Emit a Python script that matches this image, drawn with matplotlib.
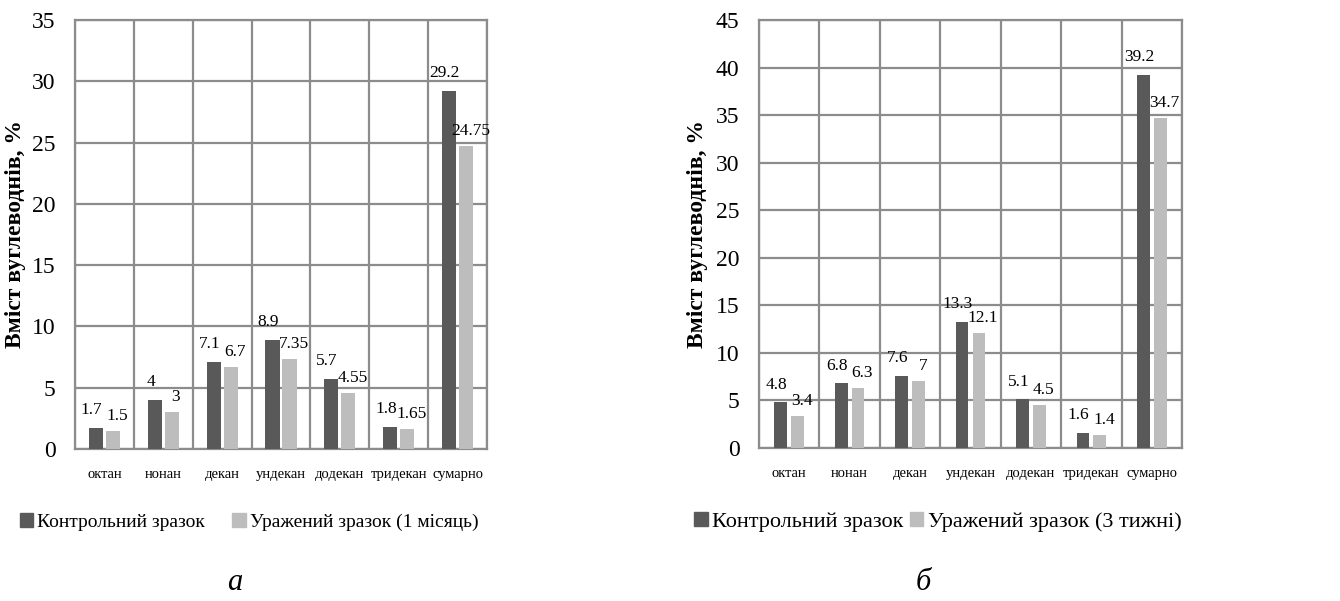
import matplotlib
matplotlib.use('Agg')
import matplotlib.pyplot as plt
import numpy as np
from matplotlib.patches import Patch

plt.rcParams['font.family'] = ['Liberation Serif', 'DejaVu Serif']

categories = ['октан', 'нонан', 'декан', 'ундекан', 'додекан', 'тридекан', 'сумарно']

control_a = [1.7, 4, 7.1, 8.9, 5.7, 1.8, 29.2]
infected_a = [1.5, 3, 6.7, 7.35, 4.55, 1.65, 24.75]
labels_control_a = ['1.7', '4', '7.1', '8.9', '5.7', '1.8', '29.2']
labels_infected_a = ['1.5', '3', '6.7', '7.35', '4.55', '1.65', '24.75']

control_b = [4.8, 6.8, 7.6, 13.3, 5.1, 1.6, 39.2]
infected_b = [3.4, 6.3, 7.0, 12.1, 4.5, 1.4, 34.7]
labels_control_b = ['4.8', '6.8', '7.6', '13.3', '5.1', '1.6', '39.2']
labels_infected_b = ['3.4', '6.3', '7', '12.1', '4.5', '1.4', '34.7']

legend_a = ['Контрольний зразок', 'Уражений зразок (1 місяць)']
legend_b = ['Контрольний зразок', 'Уражений зразок (3 тижні)']

DARK = '#595959'
LIGHT = '#bdbdbd'
GRID = '#8c8c8c'

W, H = 1340, 601
fig = plt.figure(figsize=(W / 100, H / 100), dpi=100)


def px_axes(x0, y_top, x1, y_bot):
    return fig.add_axes([x0 / W, 1 - y_bot / H, (x1 - x0) / W, (y_bot - y_top) / H])


def draw_panel(ax, ctrl, inf, lab_c, lab_i, ymax, width, off):
    x = np.arange(len(categories))
    ax.bar(x - off, ctrl, width, color=DARK, zorder=3)
    ax.bar(x + off, inf, width, color=LIGHT, zorder=3)
    for xi, v, s in zip(x, ctrl, lab_c):
        ax.annotate(s, (xi - off, v), xytext=(-3, 7), textcoords='offset points',
                    ha='center', va='bottom', fontsize=12.5, zorder=4)
    for xi, v, s in zip(x, inf, lab_i):
        ax.annotate(s, (xi + off, v), xytext=(3, 5), textcoords='offset points',
                    ha='center', va='bottom', fontsize=12.5, zorder=4)
    ax.set_xlim(-0.5, len(categories) - 0.5)
    ax.set_ylim(0, ymax)
    ax.set_yticks(np.arange(0, ymax + 1, 5))
    ax.set_xticks(x)
    ax.set_xticklabels(categories, fontsize=10.5)
    ax.set_xticks(np.arange(-0.5, len(categories), 1), minor=True)
    ax.grid(True, which='major', axis='y', color=GRID, lw=1.6, zorder=0)
    ax.grid(True, which='minor', axis='x', color=GRID, lw=1.6, zorder=0)
    ax.tick_params(axis='both', which='both', length=0)
    ax.tick_params(axis='y', labelsize=17, pad=14)
    ax.tick_params(axis='x', pad=14)
    for sp in ax.spines.values():
        sp.set_color(GRID)
        sp.set_linewidth(1.6)
    ax.set_ylabel('Вміст вуглеводнів, %', fontsize=17, fontweight='bold')


ax1 = px_axes(75, 20, 487, 449)
draw_panel(ax1, control_a, infected_a, labels_control_a, labels_infected_a, 35, 0.24, 0.145)
ax1.yaxis.set_label_coords(-49 / 412, 0.5)

ax2 = px_axes(759, 20, 1182, 448)
draw_panel(ax2, control_b, infected_b, labels_control_b, labels_infected_b, 45, 0.21, 0.14)
ax2.yaxis.set_label_coords(-51 / 423, 0.5)

handles = [Patch(color=DARK), Patch(color=LIGHT)]
fig.legend(handles, legend_a, loc='center', bbox_to_anchor=(249 / W, 1 - 522 / H),
           ncol=2, frameon=False, fontsize=14, handlelength=0.7, handleheight=0.7,
           handletextpad=0.2, columnspacing=1.4)
fig.legend(handles, legend_b, loc='center', bbox_to_anchor=(938 / W, 1 - 522 / H),
           ncol=2, frameon=False, fontsize=16, handlelength=0.6, handleheight=0.6,
           handletextpad=0.2, columnspacing=0.3)

fig.text(235 / W, 1 - 583 / H, 'а', fontsize=22, style='italic', ha='center', va='center')
fig.text(923 / W, 1 - 583 / H, 'б', fontsize=22, style='italic', ha='center', va='center')

fig.savefig('out.png', dpi=100)
